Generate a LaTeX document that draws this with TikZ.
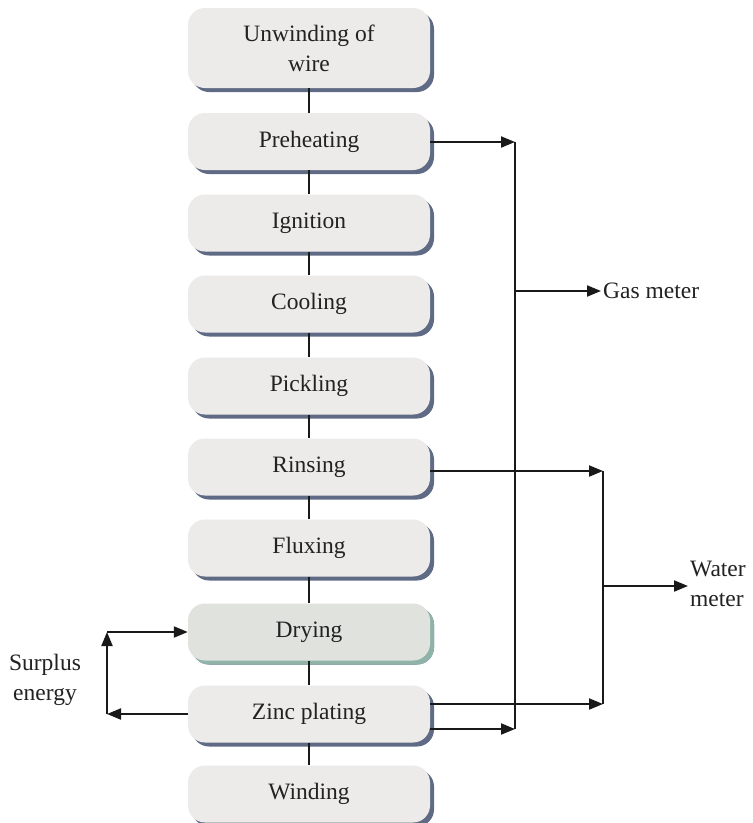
\documentclass[tikz,border=0pt]{standalone}
\usepackage{fontspec}
\setmainfont{Liberation Serif}
\newfontfamily\tnr{Liberation Serif}
\usetikzlibrary{arrows.meta,shadows,calc}
\definecolor{boxfill}{HTML}{EDEAEA}
\definecolor{boxshadow}{HTML}{5F6A85}
\definecolor{dryfill}{HTML}{E0E2DE}
\definecolor{dryshadow}{HTML}{8FB3A8}
\definecolor{txt}{HTML}{222222}
\tikzset{
  stepbox/.style={rounded corners=17pt, fill=boxfill, minimum width=242pt, minimum height=57pt,
    inner sep=0pt, text=txt, align=center, font=\tnr\fontsize{23.5}{30}\selectfont,
    general shadow={fill=boxshadow, shadow xshift=4pt, shadow yshift=-4pt}},
  drybox/.style={stepbox, fill=dryfill,
    general shadow={fill=dryshadow, shadow xshift=4pt, shadow yshift=-4pt}},
  link/.style={line width=2.4pt, draw=black!90},
  arr/.style={line width=2pt, draw=black!90, -{Triangle[length=14pt,width=11pt]}},
  bus/.style={line width=2pt, draw=black!90},
  lbl/.style={text=txt, font=\tnr\fontsize{23.5}{30}\selectfont, inner sep=2pt}
}
\begin{document}
\begin{tikzpicture}[x=1pt,y=-1pt]
\useasboundingbox[fill=white] (0,0) rectangle (753,823);
\node[stepbox, minimum height=80pt] (unw) at (309,48) {Unwinding of\\wire};
\node[stepbox] (pre) at (309,141.5) {Preheating};
\node[stepbox] (ign) at (309,223) {Ignition};
\node[stepbox] (coo) at (309,304) {Cooling};
\node[stepbox] (pic) at (309,386) {Pickling};
\node[stepbox] (rin) at (309,467) {Rinsing};
\node[stepbox] (flu) at (309,548) {Fluxing};
\node[drybox] (dry) at (309,632) {Drying};
\node[stepbox] (zin) at (309,714) {Zinc plating};
\node[stepbox] (win) at (309,794) {Winding};

\foreach \a/\b in {unw/pre,pre/ign,ign/coo,coo/pic,pic/rin,rin/flu,flu/dry,dry/zin,zin/win}
  \draw[link] (\a) -- (\b);

% gas bus
\coordinate (gtop) at (515,142);
\coordinate (gbot) at (515,729);
\coordinate (gmid) at (515,291);
\draw[arr] (pre.east |- gtop) -- (gtop);
\draw[bus] (gtop) -- (gbot);
\draw[arr] (zin.east |- gbot) -- (gbot);
\node[lbl, anchor=west] (gas) at (601,291) {Gas meter};
\draw[arr] (gmid) -- (gas.west);

% water bus
\coordinate (wtop) at (603,471);
\coordinate (wbot) at (603,704);
\coordinate (wmid) at (603,586);
\draw[arr] (rin.east |- wtop) -- (wtop);
\draw[bus] (wtop) -- (wbot);
\draw[arr] (zin.east |- wbot) -- (wbot);
\node[lbl, anchor=west, align=left] (wat) at (688,584) {Water\\meter};
\draw[arr] (wmid) -- (wat.west |- wmid);

% surplus energy
\coordinate (sbot) at (107,714);
\coordinate (stop) at (107,632);
\draw[arr] (zin.west) -- (sbot);
\draw[arr] (sbot) -- (stop);
\draw[arr] (stop) -- (dry.west);
\node[lbl, align=center] (sur) at (45,680) {Surplus\\energy};
\end{tikzpicture}
\end{document}
